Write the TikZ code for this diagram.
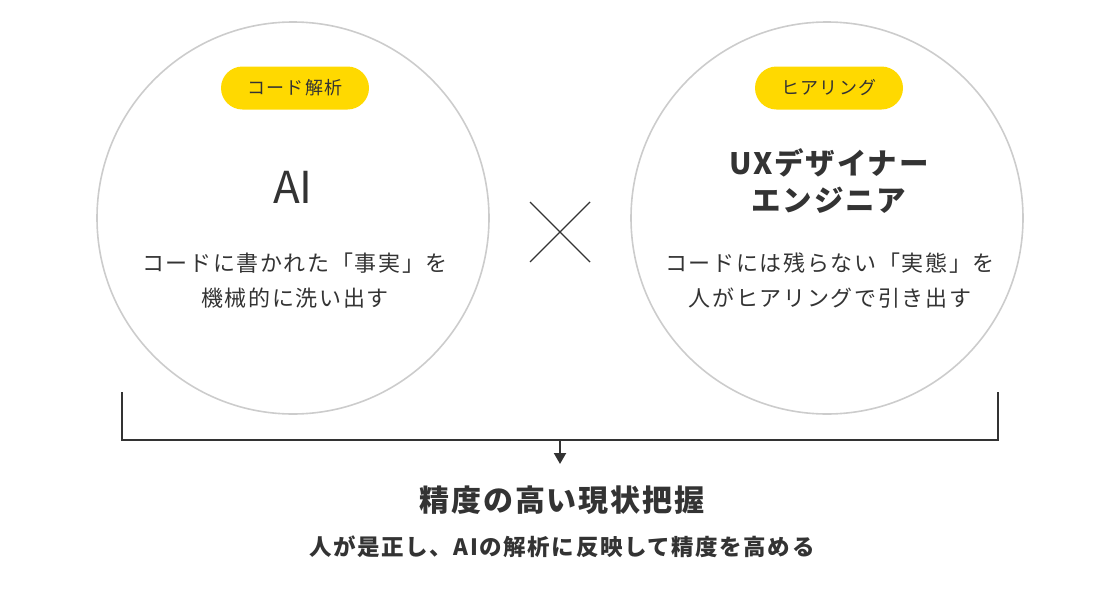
\documentclass[tikz,border=0pt]{standalone}
\usepackage{fontspec}
\setmainfont{Noto Sans CJK JP}
\newfontfamily\plainjp{Noto Sans CJK JP}
\newfontfamily\tagjp{Noto Sans CJK JP}[LetterSpace=7]
\newfontfamily\bodyjp{Noto Sans CJK JP}[LetterSpace=7.5]
\newfontfamily\headjp{Noto Sans CJK JP}[LetterSpace=6]
\newfontfamily\subjp{Noto Sans CJK JP}[LetterSpace=7]
\usetikzlibrary{arrows.meta}
\definecolor{ink}{HTML}{333333}
\definecolor{ring}{HTML}{CCCCCC}
\definecolor{pill}{HTML}{FFD900}
\tikzset{
  ringc/.style={draw=ring, line width=1.6pt, circle, minimum size=392pt, inner sep=0pt},
  tag/.style={fill=pill, rounded corners=21.5pt, minimum width=148pt, minimum height=43pt, inner sep=0pt, text=ink, font=\tagjp\fontsize{18}{18}\selectfont},
  body/.style={align=center, text=ink, font=\bodyjp\fontsize{22}{35}\selectfont},
  wire/.style={draw=ink, line width=2pt},
}
\begin{document}
\begin{tikzpicture}[x=1pt,y=-1pt]
\useasboundingbox (0,0) rectangle (1120,600);
% circles
\node[ringc] (lc) at (293,218) {};
\node[ringc] (rc) at (827,218) {};
% tags
\node[tag] (lt) at (295,88) {コード解析};
\node[tag] (rt) at (829,88) {ヒアリング};
% titles
\node[text=ink, font=\plainjp\fontsize{44}{46}\selectfont] (ai) at (293,187) {AI};
\node[align=center, text=ink, font=\headjp\bfseries\fontsize{29.5}{37}\selectfont] (ux) at (829,181) {UXデザイナー\\エンジニア};
% bodies
\node[body] (lb) at (295,281) {コードに書かれた「事実」を\\機械的に洗い出す};
\node[body] (rb) at (830,281) {コードには残らない「実態」を\\人がヒアリングで引き出す};
% cross
\coordinate (x1) at (530,202);
\coordinate (x2) at (590,262);
\coordinate (x3) at (590,202);
\coordinate (x4) at (530,262);
\draw[ink, line width=1.4pt] (x1) -- (x2);
\draw[ink, line width=1.4pt] (x3) -- (x4);
% bracket
\coordinate (bl) at (122,392);
\coordinate (br) at (998,392);
\coordinate (bm) at (560,440);
\coordinate (bt) at (560,464);
\draw[wire] (bl) |- (br |- bm) -- (br);
\draw[wire, -{Triangle[length=11pt,width=12pt]}] (bm) -- (bt);
% result
\node[text=ink, font=\headjp\bfseries\fontsize{30}{30}\selectfont] (res) at (562,500) {精度の高い現状把握};
\node[text=ink, font=\subjp\bfseries\fontsize{22.5}{22}\selectfont] (sub) at (562,547) {人が是正し、AIの解析に反映して精度を高める};
\end{tikzpicture}
\end{document}
